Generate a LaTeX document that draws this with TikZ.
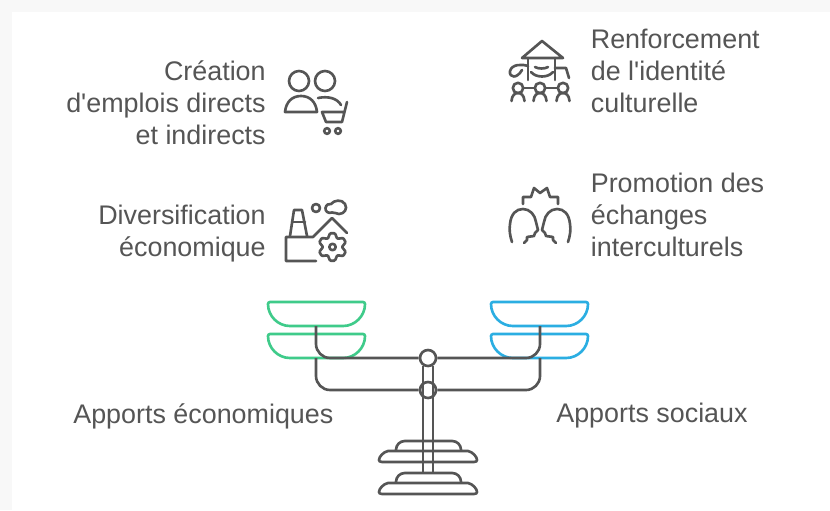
\documentclass[tikz,border=0pt]{standalone}
\usepackage{fontspec}
\newfontfamily\kfont{Liberation Sans}
\tikzset{
  label/.style={text=kText,font=\kfont\fontsize{15.3}{18.2}\selectfont,inner sep=0pt},
  icon/.style={draw=kGrey,line width=1.5pt,line join=round,line cap=round},
  pan/.style={line width=1.5pt,rounded corners=1.2pt},
  beam/.style={draw=kGrey,line width=1.5pt},
  pivot/.style={circle,draw=kGrey,line width=1.5pt,minimum size=3.2mm,inner sep=0pt},
}
\begin{document}
\begin{tikzpicture}[x=0.02cm,y=-0.02cm]
  % colors
  \definecolor{kGrey}{HTML}{555555}
  \definecolor{kText}{HTML}{555555}
  \definecolor{kGreen}{HTML}{3FCB8A}
  \definecolor{kBlue}{HTML}{2BAEE2}
  \definecolor{kPage}{HTML}{F8F8F8}
  % card
  \useasboundingbox (0,0) rectangle (830,510);
  \fill[kPage] (0,0) rectangle (830,510);
  \fill[white] (12,12) rectangle (830,510);
  % texts
  \node[label,anchor=east,align=right] (emplois) at (266,103) {Création\\d'emplois directs\\et indirects};
  \node[label,anchor=east,align=right] (diversif) at (266,234) {Diversification\\économique};
  \node[label,anchor=west,align=left] (identite) at (590.5,71) {Renforcement\\de l'identité\\culturelle};
  \node[label,anchor=west,align=left] (echanges) at (590.5,215) {Promotion des\\échanges\\interculturels};
  \node[label,anchor=west] (economiques) at (73,416) {Apports économiques};
  \node[label,anchor=west] (sociaux) at (556,416) {Apports sociaux};
  % people and cart
  \draw[icon] (299,81) circle (10);
  \draw[icon] (325,81) circle (10);
  \draw[icon] (285,112) .. controls (286,102) and (292,96) .. (301,96) .. controls (310,96) and (316,102) .. (317,112) -- cycle;
  \draw[icon] (318,98) .. controls (328,96) and (337,98) .. (341,105);
  \draw[icon] (347,102) -- (342,122) -- (326,122) -- (322,112) -- (344,112);
  \foreach \x in {327,338}
    \draw[icon] (\x,131) circle (2.8);
  % hat and crowd
  \draw[icon] (522,58) -- (542,41) -- (563,58) -- cycle;
  \draw[icon] (528,58) -- (528,80);
  \draw[icon] (555,58) -- (555,80);
  \draw[icon] (531,72) .. controls (536,78) and (548,78) .. (553,72);
  \draw[icon] (535,67) .. controls (538,69) and (545,69) .. (548,67);
  \draw[icon] (528,66) .. controls (522,64) and (512,64) .. (510,71) .. controls (509,78) and (517,79) .. (522,70);
  \draw[icon] (555,68) -- (566,68) -- (569,78);
  \foreach \x in {518,540,563} {
    \draw[icon] (\x,88) circle (5.2);
    \draw[icon] (\x-6.5,101) .. controls (\x-6,95) and (\x-3,93) .. (\x,93) .. controls (\x+3,93) and (\x+6,95) .. (\x+6.5,101);
  }
  \draw[icon] (523,88) -- (535,88);
  \draw[icon] (545,88) -- (558,88);
  % factory
  \draw[icon] (290,236) -- (294,210) -- (302,210) -- (307,236);
  \draw[icon] (292,222) -- (305,222);
  \draw[icon] (316,261) -- (286,261) -- (286,237) -- (313,237) -- (332,218) -- (347,233);
  \draw[icon] (316,208) circle (4);
  \draw[icon] (331,204) .. controls (334,200) and (342,199) .. (345,204) .. controls (348,209) and (344,214) .. (339,214) .. controls (336,214) and (335,212) .. (332,212.5) .. controls (328,214) and (325,211) .. (325.5,208) .. controls (326,205) and (329,203) .. (331,204) -- cycle;
  \draw[icon,rounded corners=0.5pt,shift={(332.5,247)}] (80:14) \foreach \a in {90,150,...,390} { -- (\a-10:14) -- (\a+10:14) -- (\a+30:9.5) } -- cycle;
  \draw[icon] (332.5,247) circle (3.2);
  % two heads
  \foreach \s/\m in {1/0,-1/1080} {
    \draw[icon,shift={(\m,0)},x={(\s*0.02cm,0)}] (512,242) .. controls (510,236) and (509,230) .. (510,224) .. controls (511,214) and (516,209) .. (523,209) .. controls (530,209) and (535,215) .. (536,222) -- (538,230) -- (535,233) -- (534,236) -- (527,237) -- (527,240) -- (524,243);
  }
  \draw[icon] (523,204) -- (523,197) -- (531,197) -- (534,188) -- (540,193) -- (547,188) -- (550,197) -- (558,197) -- (558,204);
  % pans
  \foreach \px/\py/\pc in {268/302/kGreen,268/334/kGreen,491/302/kBlue,491/334/kBlue}
    \draw[pan,draw=\pc,shift={(\px,\py)}] (48,0) -- (97,0) .. controls (97,14) and (87,24) .. (73,24) -- (24,24) .. controls (10,24) and (0,14) .. (0,0) -- cycle;
  % scale
  \node[pivot,fill=white] (pivotup) at (428,358) {};
  \node[pivot] (pivotlow) at (428,390) {};
  \coordinate (armleft) at (316,326);
  \coordinate (armright) at (540,326);
  \draw[beam,rounded corners=8pt] (armleft) |- (pivotup.west);
  \draw[beam,rounded corners=8pt] (armright) |- (pivotup.east);
  \draw[beam,rounded corners=8pt] (316,358) |- (pivotlow.west);
  \draw[beam,rounded corners=8pt] (540,358) |- (pivotlow.east);
  \foreach \x in {423,433}
    \draw[beam] (\x,365.5) -- (\x,473);
  % base
  \foreach \y in {441,473} {
    \draw[beam,rounded corners=5pt] (396,\y+10) -- (396,\y) -- (461,\y) -- (461,\y+10);
    \draw[beam] (388,\y+10) -- (468,\y+10) .. controls (473,\y+11) and (477,\y+16) .. (477,\y+19) .. controls (477,\y+20) and (476,\y+21) .. (474,\y+21) -- (382,\y+21) .. controls (380,\y+21) and (379,\y+20) .. (379,\y+19) .. controls (379,\y+16) and (383,\y+11) .. (388,\y+10) -- cycle;
  }
\end{tikzpicture}
\end{document}
